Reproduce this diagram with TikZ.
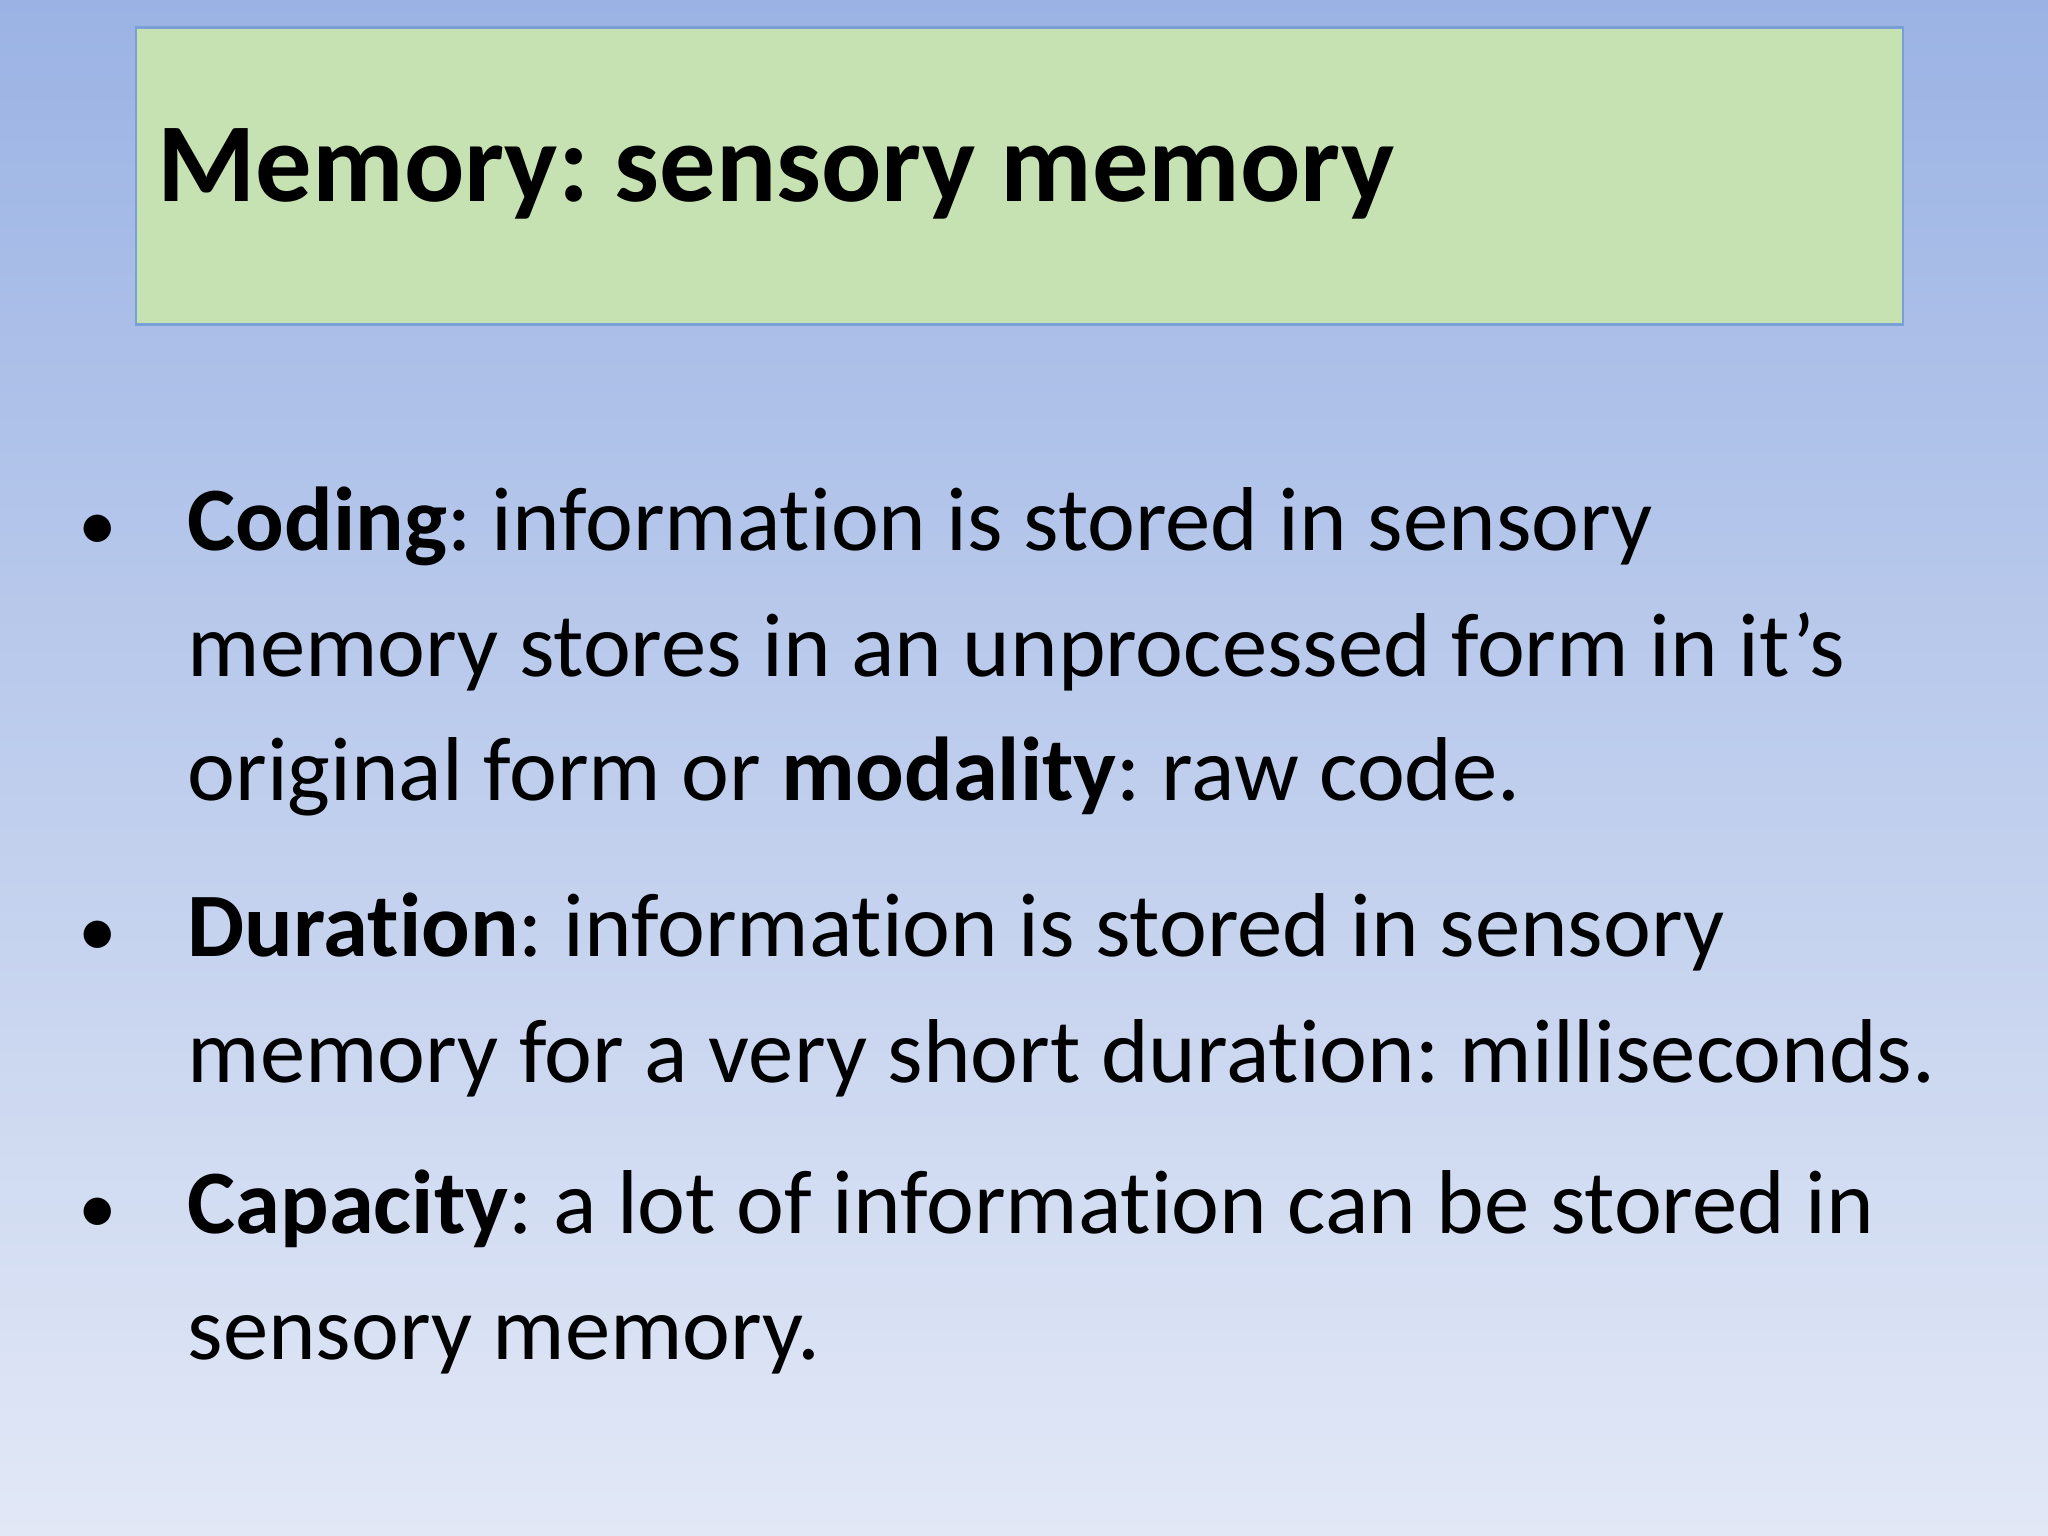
\documentclass[tikz,border=0pt]{standalone}
\usepackage{fontspec}
\setmainfont{Carlito}[Ligatures=NoCommon]
\frenchspacing
\definecolor{bgtop}{RGB}{155,179,228}
\definecolor{bgbot}{RGB}{226,232,246}
\definecolor{titlefill}{RGB}{198,226,178}
\definecolor{titleline}{RGB}{120,160,215}
\tikzset{
  body/.style={anchor=base west,inner sep=0pt,font=\fontsize{25.8}{30}\selectfont},
  bul/.style={anchor=base,inner sep=0pt,font=\fontsize{22}{27}\selectfont}
}
\begin{document}
\begin{tikzpicture}[x=1cm,y=1cm]
\shade[top color=bgtop,bottom color=bgbot] (0,0) rectangle (20.48,15.36);
\useasboundingbox (0,0) rectangle (20.48,15.36);
\node[draw=titleline,fill=titlefill,line width=0.8pt,minimum width=17.67cm,minimum height=2.97cm,anchor=north west,inner sep=0pt] (tbox) at (1.345,15.10) {};
\node[anchor=base west,inner sep=0pt,font=\fontsize{32}{40}\selectfont\bfseries] (title) at (1.57,13.34) {Memory: sensory memory};
\node[bul] (b1) at (0.98,9.85) {•};
\node[body] (l1) at (1.87,9.85) {\textbf{Coding}: information is stored in sensory};
\node[body] (l2) at (1.87,8.59) {memory stores in an unprocessed form in it’s};
\node[body] (l3) at (1.87,7.35) {original form or \textbf{modality}: raw code.};
\node[bul] (b2) at (0.98,5.79) {•};
\node[body] (l4) at (1.87,5.79) {\textbf{Duration}: information is stored in sensory};
\node[body] (l5) at (1.87,4.53) {memory for a very short duration: milliseconds.};
\node[bul] (b3) at (0.98,3.02) {•};
\node[body] (l6) at (1.87,3.02) {\textbf{Capacity}: a lot of information can be stored in};
\node[body] (l7) at (1.87,1.76) {sensory memory.};
\end{tikzpicture}
\end{document}
